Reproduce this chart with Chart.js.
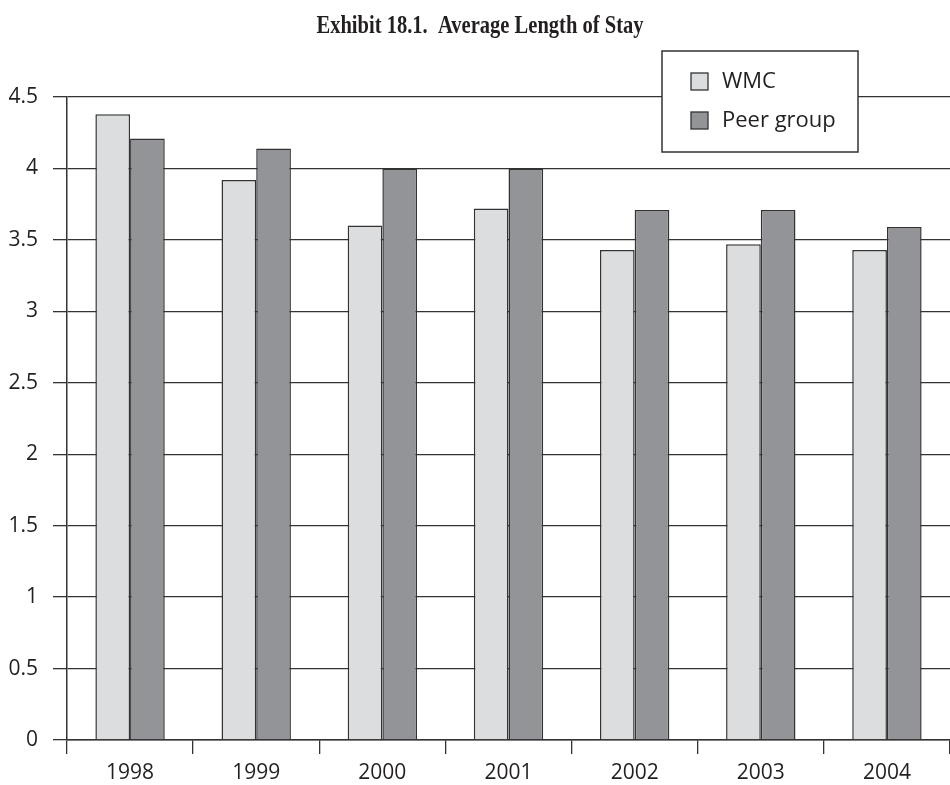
<!DOCTYPE html>
<html>
<head>
<meta charset="utf-8">
<script src="https://cdn.jsdelivr.net/npm/chart.js@4"></script>
<style>
  html, body { margin: 0; padding: 0; background: #fff; }
  #wrap { width: 950px; height: 785px; }
</style>
</head>
<body>
<div id="wrap"><canvas id="los"></canvas></div>
<script>
// ─── data ────────────────────────────────────────────────────────────────
const YEARS = ['1998', '1999', '2000', '2001', '2002', '2003', '2004'];
const WMC   = [4.38, 3.92, 3.60, 3.72, 3.43, 3.47, 3.43];
const PEER  = [4.21, 4.14, 4.00, 4.00, 3.71, 3.71, 3.59];
const Y_TICKS = [0, 0.5, 1, 1.5, 2, 2.5, 3, 3.5, 4, 4.5];
const TITLE = 'Exhibit 18.1.  Average Length of Stay';

const C = {
  ink:   '#231f20',
  line:  '#333333',
  light: '#dcdddf',
  dark:  '#939498',
};

const FONT = "'Open Sans', 'Noto Sans', sans-serif";

// condensed bold serif heading (canvas has no condensed serif installed)
const condensedTitle = {
  id: 'condensedTitle',
  afterDraw(chart) {
    const { ctx } = chart;
    ctx.save();
    ctx.font = "bold 26px 'Liberation Serif', serif";
    ctx.fillStyle = C.ink;
    ctx.textAlign = 'center';
    ctx.textBaseline = 'alphabetic';
    ctx.translate(480, 33);
    ctx.scale(0.79, 1);
    ctx.fillText(TITLE, 0, 0);
    ctx.restore();
  },
};

// boxed legend sitting over the top-right of the plot
const boxLegend = {
  id: 'boxLegend',
  afterDraw(chart) {
    const { ctx, chartArea } = chart;
    const x = chartArea.right - 288, y = chartArea.top - 46;
    const w = 196, h = 101;
    ctx.save();
    ctx.fillStyle = '#fff';
    ctx.fillRect(x, y, w, h);
    ctx.strokeStyle = C.line;
    ctx.lineWidth = 1.5;
    ctx.strokeRect(x, y, w, h);
    ctx.font = `22px ${FONT}`;
    ctx.textBaseline = 'middle';
    chart.data.datasets.forEach((ds, i) => {
      const ry = y + 30 + i * 39;
      ctx.fillStyle = ds.backgroundColor;
      ctx.fillRect(x + 29, ry - 8, 17, 17);
      ctx.strokeStyle = C.line;
      ctx.lineWidth = 1.3;
      ctx.strokeRect(x + 29, ry - 8, 17, 17);
      ctx.fillStyle = C.ink;
      ctx.fillText(ds.label, x + 60, ry + 1);
    });
    ctx.restore();
  },
};

new Chart(document.getElementById('los'), {
  type: 'bar',
  data: {
    labels: YEARS,
    datasets: [
      { label: 'WMC',        data: WMC,  backgroundColor: C.light, borderColor: C.line, borderWidth: 1.5 },
      { label: 'Peer group', data: PEER, backgroundColor: C.dark,  borderColor: C.line, borderWidth: 1.5 },
    ],
  },
  options: {
    responsive: true,
    maintainAspectRatio: false,
    animation: false,
    layout: { padding: { left: 0, right: 0, top: 97, bottom: 0 } },
    datasets: { bar: { categoryPercentage: 0.55, barPercentage: 1 } },
    plugins: {
      legend: { display: false },
      tooltip: { enabled: false },
      title: { display: false },
    },
    scales: {
      x: {
        afterFit: s => { s.height = 45; },
        grid: { drawOnChartArea: false, offset: true, color: C.line, lineWidth: 1.3, tickLength: 14 },
        border: { color: C.line, width: 1.5 },
        ticks: { color: C.ink, font: { family: FONT, size: 21 }, padding: 6 },
      },
      y: {
        min: 0, max: 4.5,
        afterBuildTicks: s => { s.ticks = Y_TICKS.map(v => ({ value: v })); },
        afterFit: s => { s.width = 67; },
        grid: { color: C.line, lineWidth: 1.3, tickLength: 14 },
        border: { color: C.line, width: 1.5 },
        ticks: { color: C.ink, font: { family: FONT, size: 21 }, padding: 15, callback: v => String(v) },
      },
    },
  },
  plugins: [condensedTitle, boxLegend],
});
</script>
</body>
</html>
